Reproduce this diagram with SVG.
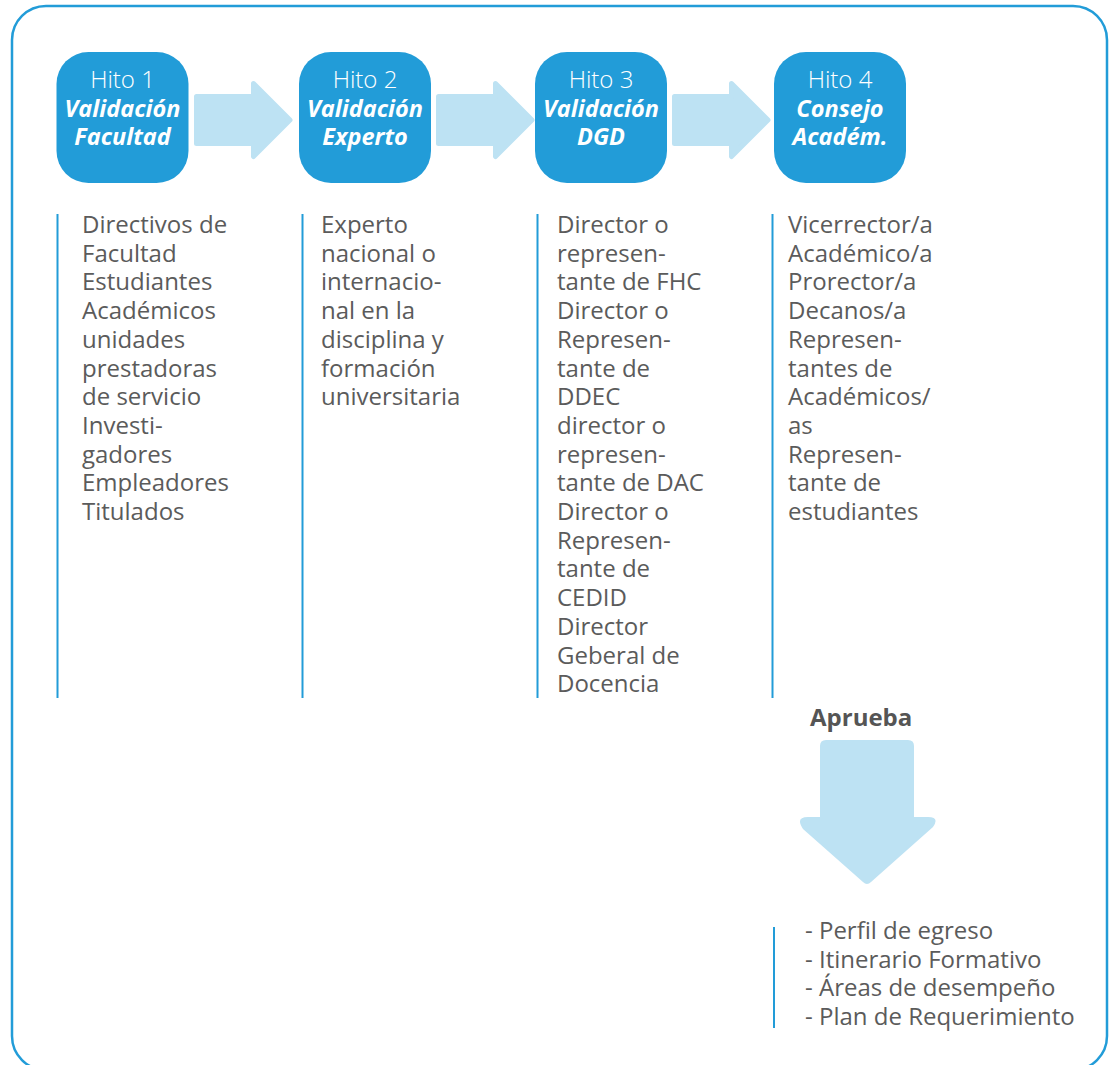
<svg xmlns="http://www.w3.org/2000/svg" width="1111" height="1065" viewBox="0 0 1111 1065">
<style>
.frame{fill:none;stroke:#229cd8;stroke-width:2.5}
.box{fill:#229cd8}
.arrow{fill:#bde2f3;stroke:#bde2f3;stroke-width:5;stroke-linejoin:round}
.t1{font-family:"Open Sans","DejaVu Sans",sans-serif;font-size:24px;font-weight:300;fill:#ffffff;text-anchor:middle}
.t2{font-family:"Open Sans","DejaVu Sans",sans-serif;font-size:23.5px;font-weight:700;font-style:italic;fill:#ffffff;text-anchor:middle}
.body{font-family:"Open Sans","DejaVu Sans",sans-serif;font-size:24px;fill:#5b5b5b}
.bar{stroke:#229cd8;stroke-width:2}
.ap{font-family:"Open Sans","DejaVu Sans",sans-serif;font-size:24px;font-weight:700;fill:#555555}
</style>
<rect class="frame" x="12" y="6" width="1095" height="1064" rx="34"/>
<g id="connectors">
<polygon class="arrow" points="196.5,96.5 253.5,96.5 253.5,83.5 290,120 253.5,156.5 253.5,143.5 196.5,143.5"/>
<polygon class="arrow" points="438.5,96.5 495.5,96.5 495.5,83.5 532,120 495.5,156.5 495.5,143.5 438.5,143.5"/>
<polygon class="arrow" points="674.5,96.5 731.5,96.5 731.5,83.5 768,120 731.5,156.5 731.5,143.5 674.5,143.5"/>
<path d="M826,740 H908 Q914,740 914,746 V817 H928 Q940,817 933,827 L871,882 Q867,886 863,882 L803,829 Q795,817 808,817 H820 V746 Q820,740 826,740 Z" fill="#bde2f3"/>
</g>
<g id="hito1">
<rect class="box" x="56.5" y="52" width="132" height="131" rx="32"/>
<text class="t1" x="122.5" y="88">Hito 1</text>
<text class="t2" x="122.5" y="117">Validación</text>
<text class="t2" x="122.5" y="145">Facultad</text>
</g>
<g id="hito2">
<rect class="box" x="299" y="52" width="132" height="131" rx="32"/>
<text class="t1" x="365" y="88">Hito 2</text>
<text class="t2" x="365" y="117">Validación</text>
<text class="t2" x="365" y="145">Experto</text>
</g>
<g id="hito3">
<rect class="box" x="535" y="52" width="132" height="131" rx="32"/>
<text class="t1" x="601" y="88">Hito 3</text>
<text class="t2" x="601" y="117">Validación</text>
<text class="t2" x="601" y="145">DGD</text>
</g>
<g id="hito4">
<rect class="box" x="774" y="52" width="132" height="131" rx="32"/>
<text class="t1" x="840" y="88">Hito 4</text>
<text class="t2" x="840" y="117">Consejo</text>
<text class="t2" x="840" y="145">Académ.</text>
</g>
<g id="col1">
<line class="bar" x1="57.5" y1="214" x2="57.5" y2="698"/>
<text class="body" x="82" y="233">
<tspan x="82" dy="0">Directivos de</tspan>
<tspan x="82" dy="28.7">Facultad</tspan>
<tspan x="82" dy="28.7">Estudiantes</tspan>
<tspan x="82" dy="28.7">Académicos</tspan>
<tspan x="82" dy="28.7">unidades</tspan>
<tspan x="82" dy="28.7">prestadoras</tspan>
<tspan x="82" dy="28.7">de servicio</tspan>
<tspan x="82" dy="28.7">Investi-</tspan>
<tspan x="82" dy="28.7">gadores</tspan>
<tspan x="82" dy="28.7">Empleadores</tspan>
<tspan x="82" dy="28.7">Titulados</tspan>
</text>
</g>
<g id="col2">
<line class="bar" x1="302.5" y1="214" x2="302.5" y2="698"/>
<text class="body" x="321" y="233">
<tspan x="321" dy="0">Experto</tspan>
<tspan x="321" dy="28.7">nacional o</tspan>
<tspan x="321" dy="28.7">internacio-</tspan>
<tspan x="321" dy="28.7">nal en la</tspan>
<tspan x="321" dy="28.7">disciplina y</tspan>
<tspan x="321" dy="28.7">formación</tspan>
<tspan x="321" dy="28.7">universitaria</tspan>
</text>
</g>
<g id="col3">
<line class="bar" x1="537.5" y1="214" x2="537.5" y2="698"/>
<text class="body" x="557" y="233">
<tspan x="557" dy="0">Director o</tspan>
<tspan x="557" dy="28.7">represen-</tspan>
<tspan x="557" dy="28.7">tante de FHC</tspan>
<tspan x="557" dy="28.7">Director o</tspan>
<tspan x="557" dy="28.7">Represen-</tspan>
<tspan x="557" dy="28.7">tante de</tspan>
<tspan x="557" dy="28.7">DDEC</tspan>
<tspan x="557" dy="28.7">director o</tspan>
<tspan x="557" dy="28.7">represen-</tspan>
<tspan x="557" dy="28.7">tante de DAC</tspan>
<tspan x="557" dy="28.7">Director o</tspan>
<tspan x="557" dy="28.7">Represen-</tspan>
<tspan x="557" dy="28.7">tante de</tspan>
<tspan x="557" dy="28.7">CEDID</tspan>
<tspan x="557" dy="28.7">Director</tspan>
<tspan x="557" dy="28.7">Geberal de</tspan>
<tspan x="557" dy="28.7">Docencia</tspan>
</text>
</g>
<g id="col4">
<line class="bar" x1="772.5" y1="214" x2="772.5" y2="698"/>
<text class="body" x="788" y="233">
<tspan x="788" dy="0">Vicerrector/a</tspan>
<tspan x="788" dy="28.7">Académico/a</tspan>
<tspan x="788" dy="28.7">Prorector/a</tspan>
<tspan x="788" dy="28.7">Decanos/a</tspan>
<tspan x="788" dy="28.7">Represen-</tspan>
<tspan x="788" dy="28.7">tantes de</tspan>
<tspan x="788" dy="28.7">Académicos/</tspan>
<tspan x="788" dy="28.7">as</tspan>
<tspan x="788" dy="28.7">Represen-</tspan>
<tspan x="788" dy="28.7">tante de</tspan>
<tspan x="788" dy="28.7">estudiantes</tspan>
</text>
</g>
<g id="aprueba">
<text class="ap" x="810" y="726">Aprueba</text>
</g>
<g id="result">
<line class="bar" x1="774" y1="927" x2="774" y2="1028"/>
<text class="body" x="805" y="939">
<tspan x="805" dy="0">- Perfil de egreso</tspan>
<tspan x="805" dy="28.7">- Itinerario Formativo</tspan>
<tspan x="805" dy="28.7">- Áreas de desempeño</tspan>
<tspan x="805" dy="28.7">- Plan de Requerimiento</tspan>
</text>
</g>
</svg>
